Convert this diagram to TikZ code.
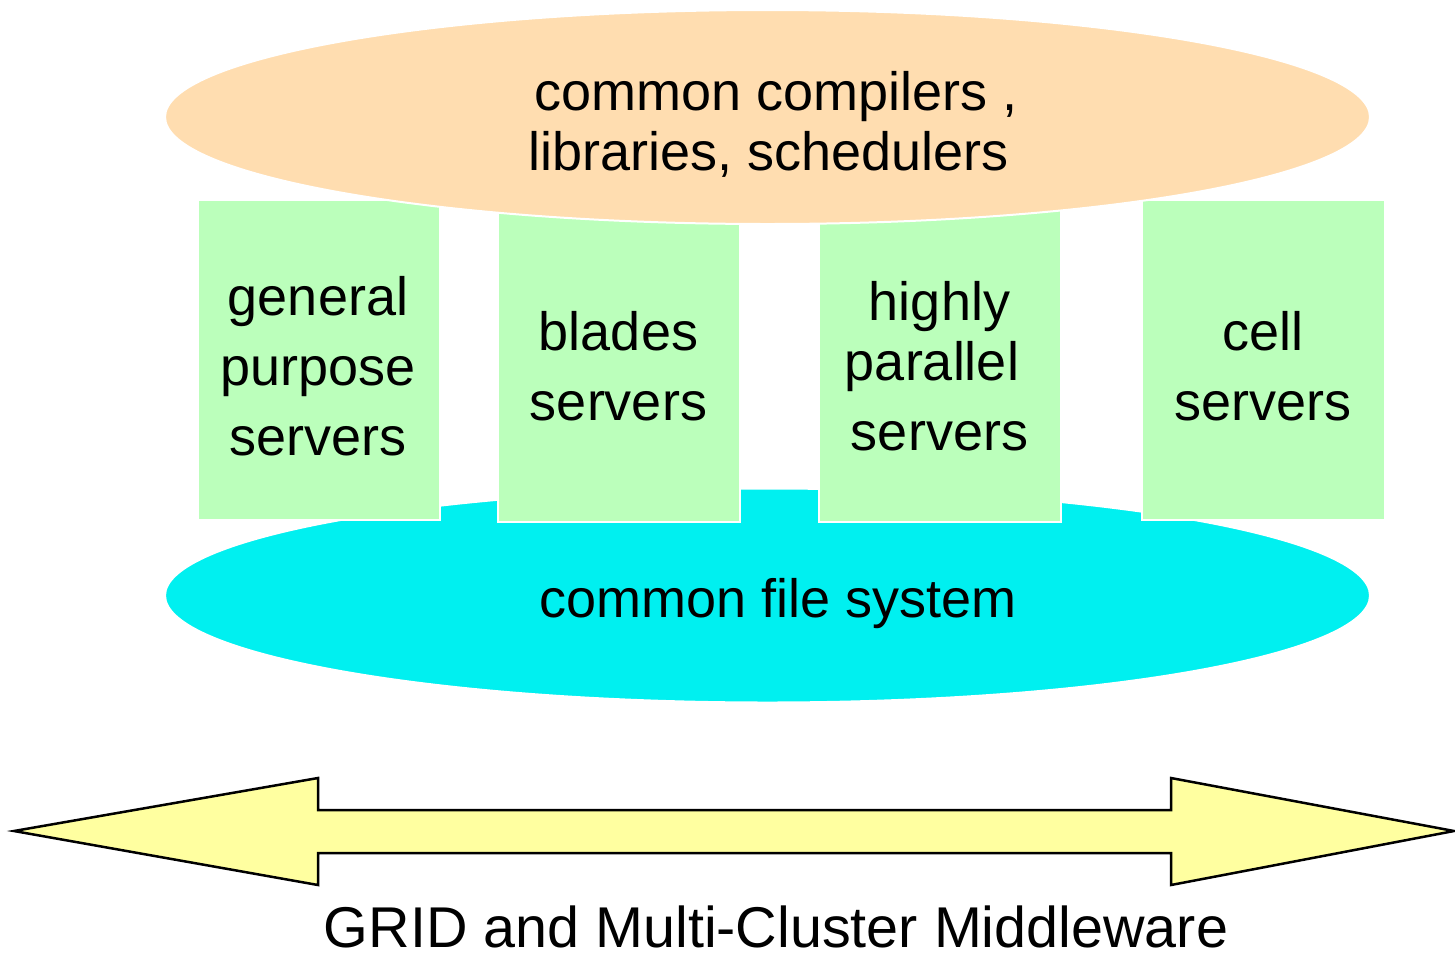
\documentclass[tikz,border=0pt]{standalone}
\usepackage{fontspec}
\setmainfont{Liberation Sans}
\usetikzlibrary{shapes.geometric}
\definecolor{toporange}{HTML}{FFDDB0}
\definecolor{boxgreen}{HTML}{BBFFBB}
\definecolor{fscyan}{HTML}{00F0F0}
\definecolor{arrowyellow}{HTML}{FFFFA0}
% strut fixing the height of the first text line, so that "anchor=north" sits 40pt above its baseline
\newcommand{\firststrut}{\rule{0pt}{40pt}}
% a trailing word space that survives the line break
\newcommand{\trailspace}{\kern0.278em}
\begin{document}
\begin{tikzpicture}[x=1pt,y=-1pt,
  layer/.style={ellipse, draw=white, line width=2pt, minimum width=1205pt,
    minimum height=214pt, inner sep=0pt},
  srvbox/.style={rectangle, fill=boxgreen, draw=white, line width=2pt,
    minimum width=242pt, minimum height=320pt, inner sep=0pt, anchor=north west},
  boxtext/.style={anchor=north, inner sep=0pt, align=center,
    font=\fontsize{54}{70}\selectfont},
  toptext/.style={anchor=north, inner sep=0pt, align=center,
    font=\fontsize{54}{60}\selectfont},
  linetext/.style={anchor=base, inner sep=0pt, font=\fontsize{54}{60}\selectfont},
  bandarrow/.style={fill=arrowyellow, draw=black, line width=2.5pt, line join=miter}
]
\useasboundingbox (0,0) rectangle (1455,954);

% shared file system layer
\node[layer, fill=fscyan] (fs) at (767.5,595.5) {};

% server families
\node[srvbox] (gp)    at (197,199) {};
\node[srvbox] (blade) at (497,201) {};
\node[srvbox] (hp)    at (818,201) {};
\node[srvbox, minimum width=243pt] (cell) at (1141,199) {};

% shared software layer
\node[layer, fill=toporange] (sw) at (767.5,117) {};

% labels
\node[toptext] (swtext) at (776,70) {\firststrut common compilers ,\\libraries, schedulers\trailspace};
\node[boxtext] (gptext) at (318,275) {\firststrut general\\purpose\\servers};
\node[boxtext] (bladetext) at (618.5,310) {\firststrut blades\\servers};
\node[boxtext] (hptext) at (939.5,280) {\firststrut highly\\[-10pt]parallel\trailspace\\servers};
\node[boxtext] (celltext) at (1262.5,310) {\firststrut cell\\servers};
\node[linetext] (fstext) at (778,617) {common file system};

% middleware band
\coordinate (ltip) at (14,831);
\coordinate (rtip) at (1454,831);
\draw[bandarrow] (ltip) -- (318,778) -- (318,810) -- (1171,810) -- (1171,778)
  -- (rtip) -- (1171,885) -- (1171,853) -- (318,853) -- (318,885) -- cycle;
\node[anchor=base, inner sep=0pt, text depth=0pt, font=\fontsize{57.5}{60}\selectfont] (mw) at (776,947)
  {GRID and Multi-Cluster Middleware};
\end{tikzpicture}
\end{document}
